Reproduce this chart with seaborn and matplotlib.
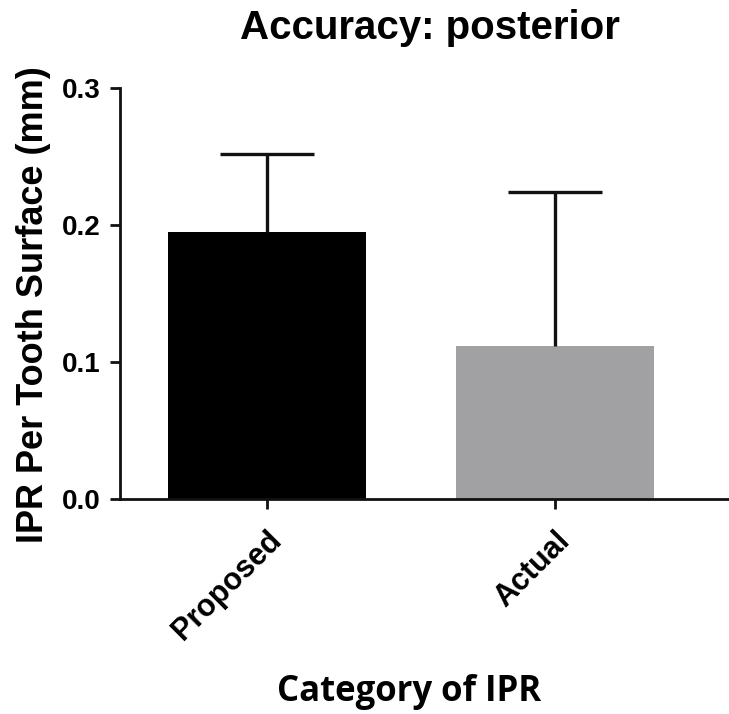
import matplotlib
matplotlib.use("Agg")
import matplotlib.pyplot as plt
import matplotlib.transforms as mtransforms
import seaborn as sns
import pandas as pd

# values
categories = ["Proposed", "Actual"]
mean_ipr = [0.195, 0.112]
upper_sd = [0.057, 0.112]
bar_colors = ["#000000", "#a1a0a5"]

df = pd.DataFrame({"category": categories, "ipr": mean_ipr})

sns.set_style("ticks")
plt.rcParams["font.family"] = ["Liberation Sans", "DejaVu Sans"]
plt.rcParams["text.color"] = "black"
plt.rcParams["xtick.color"] = "black"
plt.rcParams["ytick.color"] = "black"

fig = plt.figure(figsize=(7.29, 7.14), dpi=100)
ax = fig.add_axes([0.1646, 0.301, 0.8354, 0.5756])

sns.barplot(data=df, x="category", y="ipr", hue="category", palette=bar_colors,
            width=0.685, legend=False, ax=ax, edgecolor="none", linewidth=0)

# one-sided (upper) error bars like GraphPad
eb = ax.errorbar(range(len(categories)), mean_ipr, yerr=[[0] * len(categories), upper_sd],
                 fmt="none", ecolor="#111111", elinewidth=2.4, capsize=34, capthick=2.4, zorder=1)
eb[1][0].set_visible(False)  # drop lower caps

ax.set_xlim(-0.51, 1.604)
ax.set_ylim(0, 0.3)
ax.set_yticks([0.0, 0.1, 0.2, 0.3])
ax.set_yticklabels(["0.0", "0.1", "0.2", "0.3"], fontsize=20, fontweight="bold")
ax.set_xticks(range(len(categories)))
ax.set_xticklabels(categories, rotation=45, ha="right", rotation_mode="anchor",
                   fontsize=22, fontweight="bold")

# nudge rotated labels a little left so they end near the tick
shift = mtransforms.ScaledTranslation(-7 / 72, 0, fig.dpi_scale_trans)
for lbl in ax.get_xticklabels():
    lbl.set_transform(lbl.get_transform() + shift)

for side in ["top", "right"]:
    ax.spines[side].set_visible(False)
for side in ["left", "bottom"]:
    ax.spines[side].set_linewidth(2.0)
    ax.spines[side].set_color("#111111")
ax.tick_params(axis="both", width=2.0, length=7, color="#111111")
ax.tick_params(axis="y", pad=7)
ax.tick_params(axis="x", pad=12)

ax.set_xlabel("")
ax.set_ylabel("")

fig.text(430 / 729, 1 - 28 / 714, "Accuracy: posterior", ha="center", va="center",
         fontsize=29, fontweight="bold")
fig.text(34 / 729, 1 - 305 / 714, "IPR Per Tooth Surface (mm)", ha="center", va="center",
         rotation=90, fontsize=26, fontweight="bold")
fig.text(409 / 729, 1 - 692 / 714, "Category of IPR", ha="center", va="center",
         fontsize=25, fontweight="bold", family=["Open Sans", "DejaVu Sans"])

fig.savefig("out.png", dpi=100)
plt.close(fig)
